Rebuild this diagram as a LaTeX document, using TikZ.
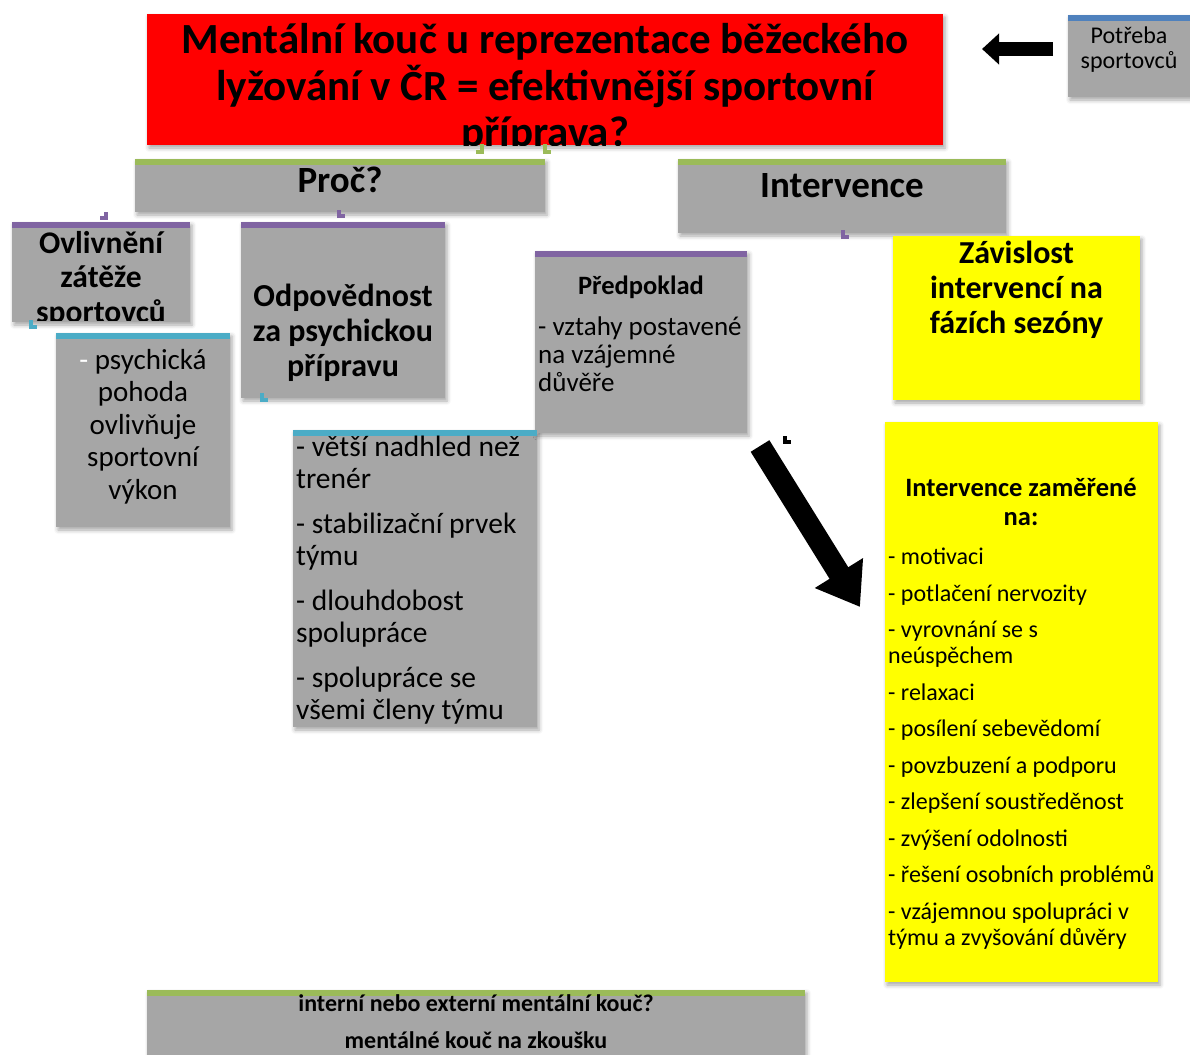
\documentclass[tikz,border=0pt]{standalone}
\usepackage{fontspec}
\setmainfont{Carlito}
\usetikzlibrary{positioning,arrows.meta,shadows.blur}
\definecolor{boxgray}{HTML}{A6A6A6}
\definecolor{boxred}{HTML}{FF0000}
\definecolor{boxyellow}{HTML}{FFFF00}
\definecolor{bargreen}{HTML}{9BBB59}
\definecolor{barpurple}{HTML}{8064A2}
\definecolor{barblue}{HTML}{4BACC6}
\definecolor{bardark}{HTML}{4F81BD}
\newcommand\fsz[2]{\fontsize{#1}{#2}\selectfont}
\tikzset{
  box/.style={anchor=north west, inner sep=0pt, outer sep=0pt, fill=boxgray,
    blur shadow={shadow xshift=2pt, shadow yshift=-3pt, shadow blur radius=4pt, shadow opacity=35}},
  txt/.style={inner sep=0pt, anchor=north, align=center},
  ltxt/.style={inner sep=0pt, anchor=north west, align=left},
  stub/.style={line width=4pt},
  fat/.style={line width=#1, draw=black}
}

\begin{document}
\begin{tikzpicture}[x=1pt, y=-1pt]
  \useasboundingbox (0,0) rectangle (1190,1054);

  % boxes
  \node[box, fill=boxred, minimum width=796pt, minimum height=131pt] (title) at (147,14) {};
  \node[box, minimum width=122pt, minimum height=82pt] (need) at (1068,15) {};
  \node[box, minimum width=410pt, minimum height=53pt] (why) at (135,159) {};
  \node[box, minimum width=328pt, minimum height=74pt] (interv) at (678,159) {};
  \node[box, minimum width=178pt, minimum height=100pt] (load) at (12,222) {};
  \node[box, minimum width=174pt, minimum height=194pt] (mood) at (56,333) {};
  \node[box, minimum width=204pt, minimum height=176pt] (resp) at (241,222) {};
  \node[box, minimum width=244pt, minimum height=297pt] (view) at (293,430) {};
  \node[box, minimum width=212pt, minimum height=182pt] (trust) at (535,251) {};
  \node[box, fill=boxyellow, minimum width=247pt, minimum height=164pt] (phase) at (893,236) {};
  \node[box, fill=boxyellow, minimum width=273pt, minimum height=560pt] (aims) at (885,422) {};
  \node[box, minimum width=658pt, minimum height=70pt] (coach) at (147,990) {};

  % coloured top bars
  \foreach \b/\c in {need/bardark, why/bargreen, interv/bargreen, load/barpurple,
                     resp/barpurple, trust/barpurple, mood/barblue, view/barblue, coach/bargreen}
    \fill[\c] (\b.north west) rectangle ([yshift=-6pt]\b.north east);

  % texts
  \begin{scope}
    \clip (title.north west) rectangle (title.south east);
    \node[txt, font=\fsz{43}{46.5}\bfseries, below=9.5pt of title.north] (titleT)
      {Mentální kouč u reprezentace běžeckého\\lyžování v ČR = efektivnější sportovní\\příprava?};
  \end{scope}
  \node[txt, font=\fsz{24}{25}, below=12pt of need.north] (needT) {Potřeba\\sportovců};
  \node[txt, font=\fsz{37}{40}\bfseries, below=8pt of why.north] (whyT) {Proč?};
  \node[txt, font=\fsz{37}{40}\bfseries, below=14pt of interv.north] (intervT) {Intervence};
  \begin{scope}
    \clip (load.north west) rectangle ([yshift=2pt]load.south east);
    \node[txt, font=\fsz{31.5}{34.5}\bfseries, below=9pt of load.north] (loadT)
      {Ovlivnění\\zátěže\\sportovců};
  \end{scope}
  \node[txt, font=\fsz{29}{32.5}, below=16pt of mood.north] (moodT)
    {{\color{white}-} psychická\\pohoda\\ovlivňuje\\sportovní\\výkon};
  \node[txt, font=\fsz{32}{35}\bfseries, below=62pt of resp.north] (respT)
    {Odpovědnost\\za psychickou\\přípravu};
  \node[ltxt, font=\fsz{29.5}{32}] (viewT) at (296,436)
    {- větší nadhled než\\trenér\\[13pt]- stabilizační prvek\\týmu\\[13pt]- dlouhdobost\\spolupráce\\[13pt]- spolupráce se\\všemi členy týmu};
  \node[txt, font=\fsz{26.5}{28}\bfseries, below=25pt of trust.north] (trustH) {Předpoklad};
  \node[ltxt, font=\fsz{27}{28}] (trustT) at (538,317)
    {- vztahy postavené\\na vzájemné\\důvěře};
  \node[txt, font=\fsz{32}{35}\bfseries, below=5pt of phase.north] (phaseT)
    {Závislost\\intervencí na\\fázích sezóny};
  \node[txt, font=\fsz{26.5}{29}\bfseries] (aimsH) at (1021,478) {Intervence zaměřené\\na:};
  \node[ltxt, font=\fsz{24}{26}] (aimsT) at (888,548)
    {- motivaci\\[10.5pt]- potlačení nervozity\\[10.5pt]- vyrovnání se s\\neúspěchem\\[10.5pt]- relaxaci\\[10.5pt]- posílení sebevědomí\\[10.5pt]- povzbuzení a podporu\\[10.5pt]- zlepšení soustředěnost\\[10.5pt]- zvýšení odolnosti\\[10.5pt]- řešení osobních problémů\\[10.5pt]- vzájemnou spolupráci v\\týmu a zvyšování důvěry};
  \node[txt, font=\fsz{24}{37}\bfseries, below=4pt of coach.north] (coachT)
    {interní nebo externí mentální kouč?\\mentálné kouč na zkoušku};

  % connector stubs
  \draw[stub, bargreen] (482,144) -- (482,152) -- (476,152);
  \draw[stub, bargreen] (545,144) -- (545,152) -- (551,152);
  \draw[stub, barpurple] (106,212) -- (106,218) -- (100,218);
  \draw[stub, barpurple] (339,210) -- (339,216) -- (345,216);
  \draw[stub, barpurple] (843,230) -- (843,237) -- (849,237);
  \draw[stub, barblue] (31,320) -- (31,327) -- (37,327);
  \draw[stub, barblue] (262,393) -- (262,400) -- (268,400);
  \draw[stub, black] (785,436) -- (785,442) -- (791,442);

  % arrows
  \coordinate (needA) at (1053,49);
  \coordinate (titleA) at (982,49);
  \draw[fat=14pt, -{Triangle[length=17pt, width=30pt]}] (needA) -- (titleA);
  \coordinate (trustA) at (760,446);
  \coordinate (aimsA) at (860,607);
  \draw[fat=22pt, -{Triangle[length=40pt, width=54pt]}] (trustA) -- (aimsA);
\end{tikzpicture}
\end{document}
